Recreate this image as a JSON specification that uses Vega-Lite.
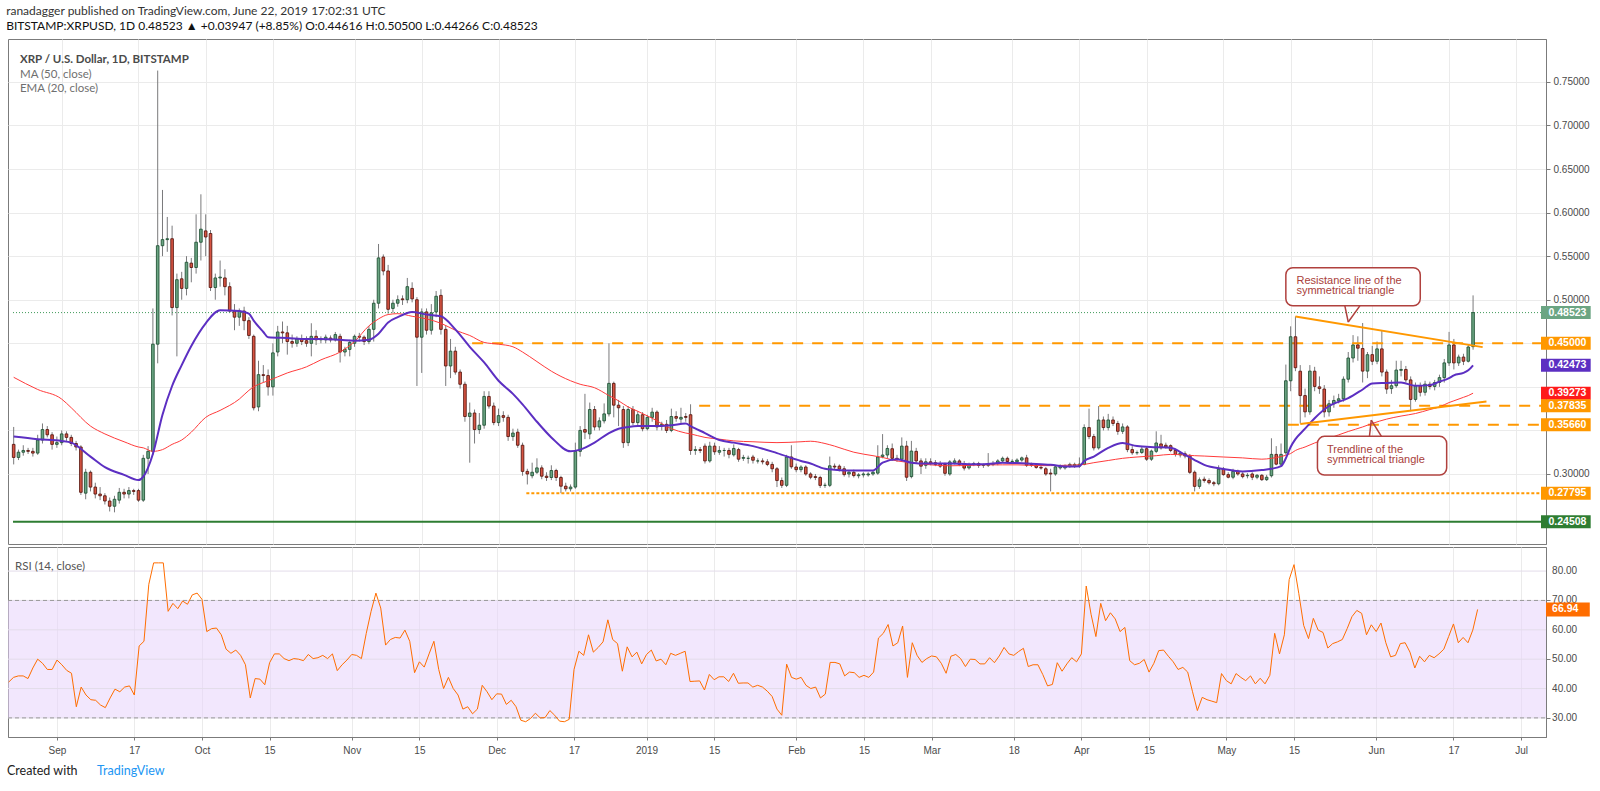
{
  "$schema": "https://vega.github.io/schema/vega-lite/v6.json",
  "background": "white",
  "padding": {"left": 6, "top": 4, "right": 0, "bottom": 0},
  "title": {
    "text": "ranadagger published on TradingView.com, June 22, 2019 17:02:31 UTC",
    "subtitle": "BITSTAMP:XRPUSD, 1D  0.48523 ▲ +0.03947 (+8.85%)  O:0.44616  H:0.50500  L:0.44266  C:0.48523",
    "anchor": "start",
    "font": "Lato",
    "fontSize": 12,
    "fontWeight": "normal",
    "color": "#333333",
    "subtitleFont": "Lato",
    "subtitleFontSize": 12,
    "subtitleColor": "#111111",
    "subtitlePadding": 3,
    "offset": 6
  },
  "datasets": {
    "candles": [
      {"t":"2018-08-22","o":0.334,"h":0.354,"l":0.311,"c":0.319,"r":42.2},
      {"t":"2018-08-23","o":0.319,"h":0.328,"l":0.316,"c":0.325,"r":43.8},
      {"t":"2018-08-24","o":0.325,"h":0.333,"l":0.321,"c":0.327,"r":44.3},
      {"t":"2018-08-25","o":0.327,"h":0.33,"l":0.323,"c":0.326,"r":44.3},
      {"t":"2018-08-26","o":0.326,"h":0.33,"l":0.32,"c":0.324,"r":43.4},
      {"t":"2018-08-27","o":0.324,"h":0.345,"l":0.322,"c":0.339,"r":47},
      {"t":"2018-08-28","o":0.339,"h":0.358,"l":0.335,"c":0.351,"r":50},
      {"t":"2018-08-29","o":0.351,"h":0.355,"l":0.342,"c":0.345,"r":48.6},
      {"t":"2018-08-30","o":0.345,"h":0.348,"l":0.328,"c":0.334,"r":46.5},
      {"t":"2018-08-31","o":0.334,"h":0.343,"l":0.33,"c":0.336,"r":46.5},
      {"t":"2018-09-01","o":0.336,"h":0.35,"l":0.333,"c":0.346,"r":49.7},
      {"t":"2018-09-02","o":0.346,"h":0.349,"l":0.338,"c":0.342,"r":48.1},
      {"t":"2018-09-03","o":0.342,"h":0.345,"l":0.332,"c":0.335,"r":46.2},
      {"t":"2018-09-04","o":0.335,"h":0.338,"l":0.327,"c":0.331,"r":45.2},
      {"t":"2018-09-05","o":0.331,"h":0.333,"l":0.276,"c":0.279,"r":33.8},
      {"t":"2018-09-06","o":0.278,"h":0.306,"l":0.271,"c":0.302,"r":40.5},
      {"t":"2018-09-07","o":0.302,"h":0.304,"l":0.28,"c":0.285,"r":37.8},
      {"t":"2018-09-08","o":0.285,"h":0.29,"l":0.272,"c":0.277,"r":36.2},
      {"t":"2018-09-09","o":0.277,"h":0.285,"l":0.27,"c":0.275,"r":36},
      {"t":"2018-09-10","o":0.275,"h":0.278,"l":0.265,"c":0.269,"r":34.4},
      {"t":"2018-09-11","o":0.269,"h":0.273,"l":0.257,"c":0.263,"r":33.5},
      {"t":"2018-09-12","o":0.263,"h":0.275,"l":0.256,"c":0.271,"r":36.8},
      {"t":"2018-09-13","o":0.27,"h":0.284,"l":0.266,"c":0.279,"r":39.8},
      {"t":"2018-09-14","o":0.279,"h":0.283,"l":0.272,"c":0.277,"r":38.9},
      {"t":"2018-09-15","o":0.277,"h":0.285,"l":0.272,"c":0.281,"r":40.5},
      {"t":"2018-09-16","o":0.281,"h":0.283,"l":0.276,"c":0.28,"r":40.9},
      {"t":"2018-09-17","o":0.281,"h":0.283,"l":0.268,"c":0.27,"r":37.8},
      {"t":"2018-09-18","o":0.27,"h":0.322,"l":0.268,"c":0.318,"r":54.5},
      {"t":"2018-09-19","o":0.318,"h":0.332,"l":0.3,"c":0.326,"r":56.1},
      {"t":"2018-09-20","o":0.326,"h":0.49,"l":0.322,"c":0.449,"r":75.5},
      {"t":"2018-09-21","o":0.449,"h":0.763,"l":0.427,"c":0.562,"r":82.8},
      {"t":"2018-09-22","o":0.562,"h":0.626,"l":0.55,"c":0.569,"r":82.8},
      {"t":"2018-09-23","o":0.569,"h":0.595,"l":0.555,"c":0.57,"r":82.8},
      {"t":"2018-09-24","o":0.57,"h":0.585,"l":0.482,"c":0.491,"r":66.3},
      {"t":"2018-09-25","o":0.491,"h":0.53,"l":0.435,"c":0.523,"r":69},
      {"t":"2018-09-26","o":0.524,"h":0.532,"l":0.5,"c":0.513,"r":67.2},
      {"t":"2018-09-27","o":0.513,"h":0.55,"l":0.505,"c":0.543,"r":69.8},
      {"t":"2018-09-28","o":0.542,"h":0.548,"l":0.52,"c":0.537,"r":68.7},
      {"t":"2018-09-29","o":0.537,"h":0.598,"l":0.53,"c":0.566,"r":71.9},
      {"t":"2018-09-30","o":0.566,"h":0.621,"l":0.545,"c":0.581,"r":72.5},
      {"t":"2018-10-01","o":0.579,"h":0.598,"l":0.55,"c":0.572,"r":70.4},
      {"t":"2018-10-02","o":0.576,"h":0.58,"l":0.51,"c":0.514,"r":59.4},
      {"t":"2018-10-03","o":0.514,"h":0.53,"l":0.5,"c":0.525,"r":60.4},
      {"t":"2018-10-04","o":0.525,"h":0.545,"l":0.515,"c":0.526,"r":60.6},
      {"t":"2018-10-05","o":0.525,"h":0.535,"l":0.505,"c":0.515,"r":58.3},
      {"t":"2018-10-06","o":0.515,"h":0.52,"l":0.485,"c":0.487,"r":53.4},
      {"t":"2018-10-07","o":0.487,"h":0.495,"l":0.465,"c":0.48,"r":52},
      {"t":"2018-10-08","o":0.48,"h":0.49,"l":0.47,"c":0.487,"r":53.1},
      {"t":"2018-10-09","o":0.487,"h":0.492,"l":0.465,"c":0.476,"r":51.3},
      {"t":"2018-10-10","o":0.476,"h":0.48,"l":0.455,"c":0.459,"r":48.1},
      {"t":"2018-10-11","o":0.458,"h":0.46,"l":0.373,"c":0.376,"r":36.8},
      {"t":"2018-10-12","o":0.377,"h":0.43,"l":0.372,"c":0.414,"r":43.4},
      {"t":"2018-10-13","o":0.414,"h":0.425,"l":0.405,"c":0.413,"r":43.2},
      {"t":"2018-10-14","o":0.413,"h":0.42,"l":0.39,"c":0.4,"r":41.3},
      {"t":"2018-10-15","o":0.4,"h":0.45,"l":0.39,"c":0.439,"r":48.8},
      {"t":"2018-10-16","o":0.44,"h":0.47,"l":0.435,"c":0.463,"r":51.8},
      {"t":"2018-10-17","o":0.463,"h":0.475,"l":0.45,"c":0.462,"r":51.8},
      {"t":"2018-10-18","o":0.462,"h":0.47,"l":0.437,"c":0.452,"r":50.2},
      {"t":"2018-10-19","o":0.452,"h":0.46,"l":0.445,"c":0.45,"r":49.5},
      {"t":"2018-10-20","o":0.45,"h":0.458,"l":0.446,"c":0.455,"r":50.2},
      {"t":"2018-10-21","o":0.455,"h":0.46,"l":0.448,"c":0.452,"r":50},
      {"t":"2018-10-22","o":0.453,"h":0.458,"l":0.446,"c":0.45,"r":49.5},
      {"t":"2018-10-23","o":0.45,"h":0.473,"l":0.435,"c":0.458,"r":51.6},
      {"t":"2018-10-24","o":0.458,"h":0.465,"l":0.448,"c":0.454,"r":50.2},
      {"t":"2018-10-25","o":0.454,"h":0.458,"l":0.45,"c":0.455,"r":50.5},
      {"t":"2018-10-26","o":0.454,"h":0.46,"l":0.45,"c":0.457,"r":51.3},
      {"t":"2018-10-27","o":0.456,"h":0.459,"l":0.451,"c":0.454,"r":50.2},
      {"t":"2018-10-28","o":0.454,"h":0.463,"l":0.452,"c":0.46,"r":51.8},
      {"t":"2018-10-29","o":0.458,"h":0.461,"l":0.428,"c":0.44,"r":46.1},
      {"t":"2018-10-30","o":0.44,"h":0.446,"l":0.435,"c":0.443,"r":48.1},
      {"t":"2018-10-31","o":0.443,"h":0.454,"l":0.435,"c":0.451,"r":49.7},
      {"t":"2018-11-01","o":0.45,"h":0.46,"l":0.446,"c":0.458,"r":51.6},
      {"t":"2018-11-02","o":0.458,"h":0.462,"l":0.452,"c":0.457,"r":51.3},
      {"t":"2018-11-03","o":0.457,"h":0.459,"l":0.448,"c":0.452,"r":50.2},
      {"t":"2018-11-04","o":0.452,"h":0.47,"l":0.449,"c":0.466,"r":58.8},
      {"t":"2018-11-05","o":0.466,"h":0.5,"l":0.452,"c":0.496,"r":66.3},
      {"t":"2018-11-06","o":0.496,"h":0.564,"l":0.49,"c":0.548,"r":72.5},
      {"t":"2018-11-07","o":0.549,"h":0.552,"l":0.528,"c":0.533,"r":67.4},
      {"t":"2018-11-08","o":0.533,"h":0.54,"l":0.484,"c":0.489,"r":54.8},
      {"t":"2018-11-09","o":0.49,"h":0.5,"l":0.485,"c":0.496,"r":56.7},
      {"t":"2018-11-10","o":0.496,"h":0.505,"l":0.492,"c":0.5,"r":57.4},
      {"t":"2018-11-11","o":0.501,"h":0.505,"l":0.494,"c":0.5,"r":57.2},
      {"t":"2018-11-12","o":0.5,"h":0.525,"l":0.496,"c":0.515,"r":59.9},
      {"t":"2018-11-13","o":0.513,"h":0.52,"l":0.497,"c":0.501,"r":56.1},
      {"t":"2018-11-14","o":0.5,"h":0.503,"l":0.401,"c":0.457,"r":45.4},
      {"t":"2018-11-15","o":0.457,"h":0.49,"l":0.416,"c":0.486,"r":49.1},
      {"t":"2018-11-16","o":0.486,"h":0.49,"l":0.46,"c":0.465,"r":47.3},
      {"t":"2018-11-17","o":0.465,"h":0.495,"l":0.46,"c":0.485,"r":51.8},
      {"t":"2018-11-18","o":0.486,"h":0.51,"l":0.48,"c":0.504,"r":56.1},
      {"t":"2018-11-19","o":0.505,"h":0.512,"l":0.46,"c":0.466,"r":46.5},
      {"t":"2018-11-20","o":0.466,"h":0.47,"l":0.401,"c":0.424,"r":40},
      {"t":"2018-11-21","o":0.424,"h":0.455,"l":0.41,"c":0.441,"r":43.8},
      {"t":"2018-11-22","o":0.441,"h":0.446,"l":0.414,"c":0.417,"r":40},
      {"t":"2018-11-23","o":0.417,"h":0.42,"l":0.398,"c":0.403,"r":37.8},
      {"t":"2018-11-24","o":0.403,"h":0.406,"l":0.36,"c":0.366,"r":33},
      {"t":"2018-11-25","o":0.366,"h":0.382,"l":0.313,"c":0.37,"r":33.8},
      {"t":"2018-11-26","o":0.37,"h":0.374,"l":0.335,"c":0.351,"r":31.4},
      {"t":"2018-11-27","o":0.351,"h":0.37,"l":0.346,"c":0.356,"r":33},
      {"t":"2018-11-28","o":0.356,"h":0.395,"l":0.352,"c":0.389,"r":41.1},
      {"t":"2018-11-29","o":0.389,"h":0.395,"l":0.375,"c":0.378,"r":38.9},
      {"t":"2018-11-30","o":0.378,"h":0.382,"l":0.356,"c":0.359,"r":36.2},
      {"t":"2018-12-01","o":0.359,"h":0.375,"l":0.355,"c":0.367,"r":38.2},
      {"t":"2018-12-02","o":0.367,"h":0.372,"l":0.36,"c":0.365,"r":38.1},
      {"t":"2018-12-03","o":0.365,"h":0.368,"l":0.338,"c":0.343,"r":34.6},
      {"t":"2018-12-04","o":0.343,"h":0.352,"l":0.338,"c":0.347,"r":36},
      {"t":"2018-12-05","o":0.348,"h":0.352,"l":0.33,"c":0.333,"r":33.8},
      {"t":"2018-12-06","o":0.333,"h":0.336,"l":0.298,"c":0.303,"r":29.2},
      {"t":"2018-12-07","o":0.303,"h":0.306,"l":0.288,"c":0.3,"r":28.7},
      {"t":"2018-12-08","o":0.298,"h":0.313,"l":0.295,"c":0.302,"r":29.8},
      {"t":"2018-12-09","o":0.302,"h":0.318,"l":0.3,"c":0.307,"r":31.6},
      {"t":"2018-12-10","o":0.307,"h":0.31,"l":0.294,"c":0.2975,"r":30},
      {"t":"2018-12-11","o":0.2975,"h":0.302,"l":0.292,"c":0.296,"r":30.1},
      {"t":"2018-12-12","o":0.296,"h":0.31,"l":0.293,"c":0.304,"r":32.5},
      {"t":"2018-12-13","o":0.304,"h":0.306,"l":0.292,"c":0.296,"r":30.9},
      {"t":"2018-12-14","o":0.296,"h":0.298,"l":0.278,"c":0.286,"r":28.9},
      {"t":"2018-12-15","o":0.286,"h":0.29,"l":0.28,"c":0.283,"r":28.7},
      {"t":"2018-12-16","o":0.283,"h":0.288,"l":0.28,"c":0.285,"r":29.5},
      {"t":"2018-12-17","o":0.285,"h":0.336,"l":0.283,"c":0.326,"r":46.5},
      {"t":"2018-12-18","o":0.326,"h":0.355,"l":0.32,"c":0.35,"r":52.7},
      {"t":"2018-12-19","o":0.351,"h":0.392,"l":0.34,"c":0.348,"r":51.3},
      {"t":"2018-12-20","o":0.346,"h":0.382,"l":0.34,"c":0.374,"r":58.3},
      {"t":"2018-12-21","o":0.374,"h":0.378,"l":0.35,"c":0.354,"r":52.4},
      {"t":"2018-12-22","o":0.354,"h":0.365,"l":0.35,"c":0.361,"r":54},
      {"t":"2018-12-23","o":0.361,"h":0.381,"l":0.358,"c":0.369,"r":55.9},
      {"t":"2018-12-24","o":0.369,"h":0.45,"l":0.366,"c":0.404,"r":63.4},
      {"t":"2018-12-25","o":0.404,"h":0.406,"l":0.365,"c":0.379,"r":56.7},
      {"t":"2018-12-26","o":0.379,"h":0.385,"l":0.355,"c":0.376,"r":55.3},
      {"t":"2018-12-27","o":0.374,"h":0.378,"l":0.33,"c":0.336,"r":45.9},
      {"t":"2018-12-28","o":0.336,"h":0.378,"l":0.332,"c":0.374,"r":54.2},
      {"t":"2018-12-29","o":0.374,"h":0.378,"l":0.356,"c":0.359,"r":50.8},
      {"t":"2018-12-30","o":0.359,"h":0.372,"l":0.356,"c":0.368,"r":52.4},
      {"t":"2018-12-31","o":0.368,"h":0.371,"l":0.349,"c":0.352,"r":48.4},
      {"t":"2019-01-01","o":0.352,"h":0.368,"l":0.35,"c":0.365,"r":51.6},
      {"t":"2019-01-02","o":0.365,"h":0.376,"l":0.36,"c":0.371,"r":53.1},
      {"t":"2019-01-03","o":0.371,"h":0.373,"l":0.35,"c":0.354,"r":49.4},
      {"t":"2019-01-04","o":0.356,"h":0.36,"l":0.35,"c":0.357,"r":50},
      {"t":"2019-01-05","o":0.357,"h":0.362,"l":0.347,"c":0.35,"r":48.1},
      {"t":"2019-01-06","o":0.35,"h":0.375,"l":0.348,"c":0.366,"r":52},
      {"t":"2019-01-07","o":0.366,"h":0.372,"l":0.36,"c":0.364,"r":51.3},
      {"t":"2019-01-08","o":0.363,"h":0.376,"l":0.358,"c":0.365,"r":52},
      {"t":"2019-01-09","o":0.366,"h":0.37,"l":0.36,"c":0.365,"r":52.7},
      {"t":"2019-01-10","o":0.368,"h":0.38,"l":0.322,"c":0.327,"r":42.4},
      {"t":"2019-01-11","o":0.327,"h":0.332,"l":0.322,"c":0.328,"r":42.5},
      {"t":"2019-01-12","o":0.328,"h":0.331,"l":0.324,"c":0.327,"r":42.6},
      {"t":"2019-01-13","o":0.332,"h":0.335,"l":0.312,"c":0.315,"r":39.5},
      {"t":"2019-01-14","o":0.315,"h":0.337,"l":0.313,"c":0.332,"r":44.8},
      {"t":"2019-01-15","o":0.332,"h":0.336,"l":0.322,"c":0.3255,"r":43},
      {"t":"2019-01-16","o":0.325,"h":0.332,"l":0.322,"c":0.327,"r":44},
      {"t":"2019-01-17","o":0.327,"h":0.33,"l":0.32,"c":0.327,"r":44},
      {"t":"2019-01-18","o":0.327,"h":0.33,"l":0.318,"c":0.3226,"r":42.4},
      {"t":"2019-01-19","o":0.322,"h":0.334,"l":0.32,"c":0.3293,"r":45.2},
      {"t":"2019-01-20","o":0.328,"h":0.33,"l":0.314,"c":0.317,"r":41.8},
      {"t":"2019-01-21","o":0.318,"h":0.322,"l":0.315,"c":0.319,"r":41.9},
      {"t":"2019-01-22","o":0.318,"h":0.321,"l":0.312,"c":0.318,"r":41.9},
      {"t":"2019-01-23","o":0.3195,"h":0.322,"l":0.312,"c":0.3158,"r":40.5},
      {"t":"2019-01-24","o":0.315,"h":0.318,"l":0.312,"c":0.315,"r":41.1},
      {"t":"2019-01-25","o":0.315,"h":0.318,"l":0.311,"c":0.314,"r":40.5},
      {"t":"2019-01-26","o":0.314,"h":0.317,"l":0.309,"c":0.311,"r":39.1},
      {"t":"2019-01-27","o":0.311,"h":0.314,"l":0.302,"c":0.306,"r":37.3},
      {"t":"2019-01-28","o":0.306,"h":0.308,"l":0.285,"c":0.2925,"r":33},
      {"t":"2019-01-29","o":0.2925,"h":0.296,"l":0.284,"c":0.287,"r":30.9},
      {"t":"2019-01-30","o":0.287,"h":0.322,"l":0.285,"c":0.3195,"r":48.3},
      {"t":"2019-01-31","o":0.3195,"h":0.333,"l":0.306,"c":0.3083,"r":43.8},
      {"t":"2019-02-01","o":0.308,"h":0.312,"l":0.302,"c":0.305,"r":43.2},
      {"t":"2019-02-02","o":0.305,"h":0.31,"l":0.302,"c":0.308,"r":43.8},
      {"t":"2019-02-03","o":0.308,"h":0.31,"l":0.298,"c":0.3,"r":41.1},
      {"t":"2019-02-04","o":0.3,"h":0.302,"l":0.294,"c":0.2963,"r":40},
      {"t":"2019-02-05","o":0.297,"h":0.3,"l":0.293,"c":0.296,"r":40.5},
      {"t":"2019-02-06","o":0.296,"h":0.298,"l":0.284,"c":0.2869,"r":36.8},
      {"t":"2019-02-07","o":0.287,"h":0.29,"l":0.284,"c":0.287,"r":38.1},
      {"t":"2019-02-08","o":0.287,"h":0.32,"l":0.285,"c":0.3094,"r":48.9},
      {"t":"2019-02-09","o":0.309,"h":0.312,"l":0.305,"c":0.308,"r":48.9},
      {"t":"2019-02-10","o":0.309,"h":0.311,"l":0.303,"c":0.3056,"r":48.4},
      {"t":"2019-02-11","o":0.306,"h":0.309,"l":0.297,"c":0.2993,"r":44.3},
      {"t":"2019-02-12","o":0.3,"h":0.304,"l":0.296,"c":0.302,"r":45.6},
      {"t":"2019-02-13","o":0.302,"h":0.305,"l":0.296,"c":0.2982,"r":45.4},
      {"t":"2019-02-14","o":0.298,"h":0.301,"l":0.295,"c":0.299,"r":43.8},
      {"t":"2019-02-15","o":0.299,"h":0.302,"l":0.296,"c":0.3,"r":44.5},
      {"t":"2019-02-16","o":0.299,"h":0.302,"l":0.297,"c":0.3,"r":43.8},
      {"t":"2019-02-17","o":0.3,"h":0.304,"l":0.298,"c":0.302,"r":45.6},
      {"t":"2019-02-18","o":0.301,"h":0.333,"l":0.299,"c":0.3195,"r":57.2},
      {"t":"2019-02-19","o":0.32,"h":0.3458,"l":0.318,"c":0.3218,"r":58.8},
      {"t":"2019-02-20","o":0.3218,"h":0.333,"l":0.318,"c":0.3293,"r":61.8},
      {"t":"2019-02-21","o":0.329,"h":0.335,"l":0.315,"c":0.318,"r":54.5},
      {"t":"2019-02-22","o":0.318,"h":0.322,"l":0.314,"c":0.317,"r":55.6},
      {"t":"2019-02-23","o":0.317,"h":0.342,"l":0.315,"c":0.332,"r":61.3},
      {"t":"2019-02-24","o":0.332,"h":0.338,"l":0.292,"c":0.2963,"r":43.8},
      {"t":"2019-02-25","o":0.297,"h":0.338,"l":0.295,"c":0.3263,"r":55.6},
      {"t":"2019-02-26","o":0.326,"h":0.33,"l":0.312,"c":0.315,"r":51.3},
      {"t":"2019-02-27","o":0.315,"h":0.318,"l":0.3,"c":0.309,"r":48.9},
      {"t":"2019-02-28","o":0.31,"h":0.318,"l":0.306,"c":0.314,"r":50.2},
      {"t":"2019-03-01","o":0.314,"h":0.318,"l":0.31,"c":0.312,"r":51.1},
      {"t":"2019-03-02","o":0.313,"h":0.316,"l":0.309,"c":0.311,"r":50.8},
      {"t":"2019-03-03","o":0.312,"h":0.315,"l":0.307,"c":0.309,"r":48.6},
      {"t":"2019-03-04","o":0.311,"h":0.313,"l":0.298,"c":0.3008,"r":45.2},
      {"t":"2019-03-05","o":0.3,"h":0.316,"l":0.298,"c":0.3139,"r":51},
      {"t":"2019-03-06","o":0.313,"h":0.318,"l":0.311,"c":0.315,"r":51.6},
      {"t":"2019-03-07","o":0.315,"h":0.317,"l":0.309,"c":0.311,"r":50.2},
      {"t":"2019-03-08","o":0.312,"h":0.315,"l":0.304,"c":0.3068,"r":47.5},
      {"t":"2019-03-09","o":0.307,"h":0.313,"l":0.305,"c":0.311,"r":50},
      {"t":"2019-03-10","o":0.312,"h":0.314,"l":0.309,"c":0.312,"r":49.9},
      {"t":"2019-03-11","o":0.312,"h":0.314,"l":0.307,"c":0.3098,"r":48.4},
      {"t":"2019-03-12","o":0.31,"h":0.312,"l":0.307,"c":0.31,"r":48.4},
      {"t":"2019-03-13","o":0.31,"h":0.324,"l":0.308,"c":0.3115,"r":50.5},
      {"t":"2019-03-14","o":0.311,"h":0.315,"l":0.309,"c":0.312,"r":48.8},
      {"t":"2019-03-15","o":0.312,"h":0.317,"l":0.31,"c":0.315,"r":51.1},
      {"t":"2019-03-16","o":0.315,"h":0.32,"l":0.313,"c":0.318,"r":54},
      {"t":"2019-03-17","o":0.318,"h":0.32,"l":0.312,"c":0.3143,"r":51.8},
      {"t":"2019-03-18","o":0.3143,"h":0.317,"l":0.312,"c":0.3146,"r":51.3},
      {"t":"2019-03-19","o":0.314,"h":0.318,"l":0.312,"c":0.316,"r":52.6},
      {"t":"2019-03-20","o":0.316,"h":0.32,"l":0.314,"c":0.3185,"r":53.7},
      {"t":"2019-03-21","o":0.3185,"h":0.322,"l":0.308,"c":0.31,"r":47.5},
      {"t":"2019-03-22","o":0.311,"h":0.313,"l":0.308,"c":0.31,"r":48.1},
      {"t":"2019-03-23","o":0.31,"h":0.312,"l":0.306,"c":0.3076,"r":48.1},
      {"t":"2019-03-24","o":0.3076,"h":0.31,"l":0.305,"c":0.3068,"r":44.8},
      {"t":"2019-03-25","o":0.306,"h":0.308,"l":0.298,"c":0.3,"r":40.9},
      {"t":"2019-03-26","o":0.301,"h":0.306,"l":0.28,"c":0.3,"r":41.4},
      {"t":"2019-03-27","o":0.3,"h":0.31,"l":0.298,"c":0.3082,"r":48.8},
      {"t":"2019-03-28","o":0.307,"h":0.311,"l":0.305,"c":0.309,"r":45.9},
      {"t":"2019-03-29","o":0.307,"h":0.311,"l":0.305,"c":0.309,"r":48.4},
      {"t":"2019-03-30","o":0.309,"h":0.313,"l":0.307,"c":0.311,"r":50.5},
      {"t":"2019-03-31","o":0.309,"h":0.313,"l":0.307,"c":0.311,"r":49.1},
      {"t":"2019-04-01","o":0.309,"h":0.319,"l":0.307,"c":0.3113,"r":51.8},
      {"t":"2019-04-02","o":0.311,"h":0.357,"l":0.31,"c":0.3533,"r":74.9},
      {"t":"2019-04-03","o":0.3533,"h":0.375,"l":0.34,"c":0.343,"r":65.3},
      {"t":"2019-04-04","o":0.343,"h":0.346,"l":0.327,"c":0.33,"r":57.7},
      {"t":"2019-04-05","o":0.33,"h":0.378,"l":0.328,"c":0.3619,"r":69},
      {"t":"2019-04-06","o":0.362,"h":0.366,"l":0.35,"c":0.3533,"r":63.1},
      {"t":"2019-04-07","o":0.3533,"h":0.369,"l":0.35,"c":0.362,"r":65.8},
      {"t":"2019-04-08","o":0.362,"h":0.366,"l":0.355,"c":0.358,"r":63.7},
      {"t":"2019-04-09","o":0.358,"h":0.361,"l":0.345,"c":0.349,"r":59.4},
      {"t":"2019-04-10","o":0.349,"h":0.358,"l":0.346,"c":0.354,"r":60.8},
      {"t":"2019-04-11","o":0.354,"h":0.356,"l":0.325,"c":0.328,"r":49.5},
      {"t":"2019-04-12","o":0.328,"h":0.332,"l":0.322,"c":0.3244,"r":48.1},
      {"t":"2019-04-13","o":0.3244,"h":0.327,"l":0.322,"c":0.3245,"r":48.6},
      {"t":"2019-04-14","o":0.3247,"h":0.331,"l":0.323,"c":0.3285,"r":49.9},
      {"t":"2019-04-15","o":0.329,"h":0.331,"l":0.315,"c":0.317,"r":45.6},
      {"t":"2019-04-16","o":0.317,"h":0.328,"l":0.315,"c":0.3263,"r":48.6},
      {"t":"2019-04-17","o":0.326,"h":0.349,"l":0.324,"c":0.3356,"r":52.9},
      {"t":"2019-04-18","o":0.3345,"h":0.345,"l":0.328,"c":0.33,"r":53.1},
      {"t":"2019-04-19","o":0.333,"h":0.336,"l":0.329,"c":0.331,"r":51},
      {"t":"2019-04-20","o":0.3325,"h":0.334,"l":0.325,"c":0.327,"r":49.1},
      {"t":"2019-04-21","o":0.327,"h":0.329,"l":0.32,"c":0.3225,"r":46.5},
      {"t":"2019-04-22","o":0.322,"h":0.326,"l":0.319,"c":0.324,"r":47.2},
      {"t":"2019-04-23","o":0.3232,"h":0.326,"l":0.318,"c":0.3207,"r":45.6},
      {"t":"2019-04-24","o":0.3207,"h":0.323,"l":0.3,"c":0.3019,"r":38.9},
      {"t":"2019-04-25","o":0.302,"h":0.304,"l":0.28,"c":0.2858,"r":32.5},
      {"t":"2019-04-26","o":0.2858,"h":0.296,"l":0.283,"c":0.2933,"r":37},
      {"t":"2019-04-27","o":0.294,"h":0.297,"l":0.29,"c":0.2925,"r":36.2},
      {"t":"2019-04-28","o":0.2925,"h":0.295,"l":0.288,"c":0.29,"r":35.7},
      {"t":"2019-04-29","o":0.29,"h":0.292,"l":0.286,"c":0.2888,"r":35.2},
      {"t":"2019-04-30","o":0.2888,"h":0.31,"l":0.287,"c":0.3056,"r":45.1},
      {"t":"2019-05-01","o":0.3056,"h":0.308,"l":0.298,"c":0.2993,"r":42.7},
      {"t":"2019-05-02","o":0.2993,"h":0.302,"l":0.295,"c":0.2963,"r":41.6},
      {"t":"2019-05-03","o":0.2963,"h":0.306,"l":0.294,"c":0.303,"r":45.1},
      {"t":"2019-05-04","o":0.303,"h":0.305,"l":0.298,"c":0.3,"r":43.8},
      {"t":"2019-05-05","o":0.3,"h":0.302,"l":0.295,"c":0.297,"r":42.7},
      {"t":"2019-05-06","o":0.298,"h":0.301,"l":0.295,"c":0.2985,"r":44.3},
      {"t":"2019-05-07","o":0.3,"h":0.302,"l":0.293,"c":0.2963,"r":41.6},
      {"t":"2019-05-08","o":0.2963,"h":0.3,"l":0.294,"c":0.2985,"r":43.5},
      {"t":"2019-05-09","o":0.2985,"h":0.3,"l":0.292,"c":0.2935,"r":41.6},
      {"t":"2019-05-10","o":0.2935,"h":0.299,"l":0.292,"c":0.2963,"r":44.5},
      {"t":"2019-05-11","o":0.298,"h":0.341,"l":0.296,"c":0.3225,"r":58.8},
      {"t":"2019-05-12","o":0.3225,"h":0.332,"l":0.31,"c":0.3113,"r":51.8},
      {"t":"2019-05-13","o":0.3113,"h":0.335,"l":0.309,"c":0.3225,"r":58.3},
      {"t":"2019-05-14","o":0.3244,"h":0.4256,"l":0.322,"c":0.407,"r":77.1},
      {"t":"2019-05-15","o":0.407,"h":0.4695,"l":0.395,"c":0.4575,"r":82.2},
      {"t":"2019-05-16","o":0.4575,"h":0.4808,"l":0.418,"c":0.422,"r":72.3},
      {"t":"2019-05-17","o":0.418,"h":0.425,"l":0.358,"c":0.39,"r":61.5},
      {"t":"2019-05-18","o":0.39,"h":0.398,"l":0.365,"c":0.3713,"r":57},
      {"t":"2019-05-19","o":0.3713,"h":0.425,"l":0.368,"c":0.4181,"r":63.9},
      {"t":"2019-05-20","o":0.418,"h":0.423,"l":0.395,"c":0.4005,"r":59.9},
      {"t":"2019-05-21","o":0.4,"h":0.412,"l":0.392,"c":0.398,"r":59.1},
      {"t":"2019-05-22","o":0.3975,"h":0.402,"l":0.365,"c":0.3713,"r":53.8},
      {"t":"2019-05-23","o":0.3713,"h":0.385,"l":0.366,"c":0.3806,"r":55.3},
      {"t":"2019-05-24","o":0.3806,"h":0.39,"l":0.376,"c":0.3844,"r":55.9},
      {"t":"2019-05-25","o":0.384,"h":0.392,"l":0.381,"c":0.3863,"r":56.7},
      {"t":"2019-05-26","o":0.3863,"h":0.412,"l":0.383,"c":0.4088,"r":60.4},
      {"t":"2019-05-27","o":0.4088,"h":0.44,"l":0.405,"c":0.4331,"r":64.5},
      {"t":"2019-05-28","o":0.4331,"h":0.4594,"l":0.428,"c":0.4481,"r":66.6},
      {"t":"2019-05-29","o":0.4481,"h":0.458,"l":0.43,"c":0.4444,"r":65.6},
      {"t":"2019-05-30","o":0.444,"h":0.4733,"l":0.405,"c":0.4181,"r":58.3},
      {"t":"2019-05-31","o":0.4181,"h":0.44,"l":0.41,"c":0.4369,"r":61.7},
      {"t":"2019-06-01","o":0.437,"h":0.447,"l":0.425,"c":0.4294,"r":59.4},
      {"t":"2019-06-02","o":0.4294,"h":0.452,"l":0.426,"c":0.4436,"r":62.3},
      {"t":"2019-06-03","o":0.4436,"h":0.465,"l":0.412,"c":0.417,"r":55.6},
      {"t":"2019-06-04","o":0.417,"h":0.42,"l":0.392,"c":0.3975,"r":50.8},
      {"t":"2019-06-05","o":0.398,"h":0.408,"l":0.392,"c":0.4013,"r":51.3},
      {"t":"2019-06-06","o":0.4013,"h":0.43,"l":0.399,"c":0.4193,"r":55.3},
      {"t":"2019-06-07","o":0.419,"h":0.43,"l":0.412,"c":0.42,"r":55.6},
      {"t":"2019-06-08","o":0.42,"h":0.424,"l":0.405,"c":0.408,"r":52.4},
      {"t":"2019-06-09","o":0.408,"h":0.412,"l":0.372,"c":0.3856,"r":47},
      {"t":"2019-06-10","o":0.3856,"h":0.405,"l":0.383,"c":0.4013,"r":51},
      {"t":"2019-06-11","o":0.4013,"h":0.405,"l":0.389,"c":0.3938,"r":49.1},
      {"t":"2019-06-12","o":0.3938,"h":0.407,"l":0.39,"c":0.4031,"r":51.3},
      {"t":"2019-06-13","o":0.403,"h":0.406,"l":0.397,"c":0.4005,"r":50.5},
      {"t":"2019-06-14","o":0.4005,"h":0.408,"l":0.396,"c":0.405,"r":51.8},
      {"t":"2019-06-15","o":0.405,"h":0.414,"l":0.4,"c":0.4106,"r":53.4},
      {"t":"2019-06-16","o":0.4106,"h":0.432,"l":0.405,"c":0.4275,"r":57.7},
      {"t":"2019-06-17","o":0.4275,"h":0.4631,"l":0.424,"c":0.4481,"r":62},
      {"t":"2019-06-18","o":0.4481,"h":0.455,"l":0.42,"c":0.4275,"r":55.6},
      {"t":"2019-06-19","o":0.4275,"h":0.437,"l":0.424,"c":0.4342,"r":57.4},
      {"t":"2019-06-20","o":0.4342,"h":0.438,"l":0.425,"c":0.4294,"r":55.6},
      {"t":"2019-06-21","o":0.4294,"h":0.449,"l":0.428,"c":0.44576,"r":59.9},
      {"t":"2019-06-22","o":0.44616,"h":0.505,"l":0.44266,"c":0.48523,"r":66.94}
    ],
    "lines": [
      {"t":"2018-08-22","ma":0.411,"ema":0.343},
      {"t":"2018-08-27","ma":0.397,"ema":0.34},
      {"t":"2018-09-01","ma":0.386,"ema":0.338},
      {"t":"2018-09-03","ma":0.376,"ema":0.336},
      {"t":"2018-09-07","ma":0.355,"ema":0.32},
      {"t":"2018-09-10","ma":0.346,"ema":0.308},
      {"t":"2018-09-14","ma":0.337,"ema":0.299},
      {"t":"2018-09-17","ma":0.331,"ema":0.293},
      {"t":"2018-09-18","ma":0.33,"ema":0.297},
      {"t":"2018-09-20","ma":0.326,"ema":0.323},
      {"t":"2018-09-22","ma":0.328,"ema":0.368},
      {"t":"2018-09-24","ma":0.334,"ema":0.401},
      {"t":"2018-09-26","ma":0.339,"ema":0.425},
      {"t":"2018-09-28","ma":0.348,"ema":0.447},
      {"t":"2018-10-01","ma":0.365,"ema":0.473},
      {"t":"2018-10-04","ma":0.373,"ema":0.488},
      {"t":"2018-10-08","ma":0.386,"ema":0.487},
      {"t":"2018-10-10","ma":0.396,"ema":0.484},
      {"t":"2018-10-11","ma":0.4,"ema":0.476},
      {"t":"2018-10-13","ma":0.405,"ema":0.463},
      {"t":"2018-10-14","ma":0.407,"ema":0.457},
      {"t":"2018-10-18","ma":0.416,"ema":0.456},
      {"t":"2018-10-22","ma":0.423,"ema":0.455},
      {"t":"2018-10-25","ma":0.431,"ema":0.455},
      {"t":"2018-10-29","ma":0.44,"ema":0.454},
      {"t":"2018-11-01","ma":0.452,"ema":0.453},
      {"t":"2018-11-04","ma":0.47,"ema":0.454},
      {"t":"2018-11-06","ma":0.478,"ema":0.461},
      {"t":"2018-11-08","ma":0.483,"ema":0.474},
      {"t":"2018-11-10","ma":0.484,"ema":0.48},
      {"t":"2018-11-13","ma":0.481,"ema":0.486},
      {"t":"2018-11-16","ma":0.478,"ema":0.483},
      {"t":"2018-11-19","ma":0.473,"ema":0.481},
      {"t":"2018-11-22","ma":0.465,"ema":0.466},
      {"t":"2018-11-25","ma":0.459,"ema":0.446},
      {"t":"2018-11-28","ma":0.451,"ema":0.428},
      {"t":"2018-12-01","ma":0.449,"ema":0.407},
      {"t":"2018-12-04","ma":0.446,"ema":0.392},
      {"t":"2018-12-06","ma":0.44,"ema":0.38},
      {"t":"2018-12-09","ma":0.429,"ema":0.36},
      {"t":"2018-12-12","ma":0.418,"ema":0.342},
      {"t":"2018-12-16","ma":0.407,"ema":0.326},
      {"t":"2018-12-18","ma":0.403,"ema":0.328},
      {"t":"2018-12-21","ma":0.399,"ema":0.336},
      {"t":"2018-12-24","ma":0.39,"ema":0.347},
      {"t":"2018-12-26","ma":0.384,"ema":0.352},
      {"t":"2018-12-28","ma":0.377,"ema":0.354},
      {"t":"2018-12-30","ma":0.372,"ema":0.355},
      {"t":"2019-01-02","ma":0.364,"ema":0.355},
      {"t":"2019-01-06","ma":0.352,"ema":0.356},
      {"t":"2019-01-09","ma":0.347,"ema":0.358},
      {"t":"2019-01-10","ma":0.346,"ema":0.355},
      {"t":"2019-01-13","ma":0.342,"ema":0.347},
      {"t":"2019-01-16","ma":0.34,"ema":0.339},
      {"t":"2019-01-19","ma":0.338,"ema":0.336},
      {"t":"2019-01-23","ma":0.337,"ema":0.332},
      {"t":"2019-01-28","ma":0.336,"ema":0.324},
      {"t":"2019-02-02","ma":0.337,"ema":0.315},
      {"t":"2019-02-04","ma":0.3376,"ema":0.312},
      {"t":"2019-02-07","ma":0.335,"ema":0.306},
      {"t":"2019-02-09","ma":0.332,"ema":0.305},
      {"t":"2019-02-13","ma":0.325,"ema":0.304},
      {"t":"2019-02-17","ma":0.321,"ema":0.304},
      {"t":"2019-02-19","ma":0.319,"ema":0.313},
      {"t":"2019-02-22","ma":0.315,"ema":0.317},
      {"t":"2019-02-25","ma":0.313,"ema":0.313},
      {"t":"2019-02-28","ma":0.311,"ema":0.312},
      {"t":"2019-03-05","ma":0.3094,"ema":0.312},
      {"t":"2019-03-09","ma":0.3098,"ema":0.3113},
      {"t":"2019-03-12","ma":0.3105,"ema":0.3113},
      {"t":"2019-03-16","ma":0.3105,"ema":0.313},
      {"t":"2019-03-19","ma":0.3105,"ema":0.3125},
      {"t":"2019-03-23","ma":0.3097,"ema":0.3115},
      {"t":"2019-03-26","ma":0.3096,"ema":0.3105},
      {"t":"2019-03-30","ma":0.3102,"ema":0.3085},
      {"t":"2019-04-01","ma":0.3105,"ema":0.309},
      {"t":"2019-04-02","ma":0.311,"ema":0.315},
      {"t":"2019-04-04","ma":0.313,"ema":0.32},
      {"t":"2019-04-07","ma":0.3155,"ema":0.33},
      {"t":"2019-04-10","ma":0.318,"ema":0.3356},
      {"t":"2019-04-13","ma":0.3195,"ema":0.332},
      {"t":"2019-04-17","ma":0.321,"ema":0.3308},
      {"t":"2019-04-20","ma":0.3225,"ema":0.33},
      {"t":"2019-04-23","ma":0.3218,"ema":0.322},
      {"t":"2019-04-25","ma":0.321,"ema":0.316},
      {"t":"2019-04-27","ma":0.3206,"ema":0.3105},
      {"t":"2019-05-01","ma":0.3195,"ema":0.3058},
      {"t":"2019-05-05","ma":0.3185,"ema":0.303},
      {"t":"2019-05-09","ma":0.317,"ema":0.3045},
      {"t":"2019-05-11","ma":0.318,"ema":0.306},
      {"t":"2019-05-13","ma":0.32,"ema":0.309},
      {"t":"2019-05-14","ma":0.3215,"ema":0.318},
      {"t":"2019-05-15","ma":0.3235,"ema":0.331},
      {"t":"2019-05-16","ma":0.327,"ema":0.34},
      {"t":"2019-05-18","ma":0.331,"ema":0.352},
      {"t":"2019-05-20","ma":0.3356,"ema":0.364},
      {"t":"2019-05-23","ma":0.341,"ema":0.378},
      {"t":"2019-05-27","ma":0.3488,"ema":0.387},
      {"t":"2019-05-30","ma":0.354,"ema":0.397},
      {"t":"2019-06-01","ma":0.358,"ema":0.404},
      {"t":"2019-06-04","ma":0.363,"ema":0.4045},
      {"t":"2019-06-07","ma":0.3665,"ema":0.405},
      {"t":"2019-06-10","ma":0.3694,"ema":0.4013},
      {"t":"2019-06-13","ma":0.374,"ema":0.402},
      {"t":"2019-06-15","ma":0.377,"ema":0.406},
      {"t":"2019-06-17","ma":0.382,"ema":0.41},
      {"t":"2019-06-18","ma":0.384,"ema":0.4133},
      {"t":"2019-06-20","ma":0.388,"ema":0.416},
      {"t":"2019-06-21","ma":0.39,"ema":0.419},
      {"t":"2019-06-22","ma":0.39273,"ema":0.42473}
    ],
    "levels": [
      {"k":"last","p":0.48523},
      {"k":"res","p":0.45},
      {"k":"ema","p":0.42473},
      {"k":"ma","p":0.39273},
      {"k":"s1","p":0.37835},
      {"k":"s2","p":0.3566},
      {"k":"s3","p":0.27795},
      {"k":"low","p":0.24508}
    ],
    "rsiTicks": [{"v": 30}, {"v": 40}, {"v": 50}, {"v": 60}, {"v": 70}, {"v": 80}]
  },
  "spacing": 1,
  "vconcat": [
    {
      "width": 1538,
      "height": 505,
      "layer": [
        {
          "data": {"name": "candles"},
          "mark": {"type": "rule", "color": "#7a7a7c", "strokeWidth": 1},
          "encoding": {
            "x": {
              "field": "t",
              "type": "temporal",
              "scale": {
                "type": "utc",
                "domain": [
                  {"year": 2018, "month": 8, "date": 21, "hours": 20, "minutes": 38, "utc": true},
                  {"year": 2019, "month": 7, "date": 6, "hours": 3, "minutes": 36, "utc": true}
                ]
              },
              "axis": {
                "title": null,
                "labels": false,
                "ticks": false,
                "domain": false,
                "grid": true,
                "values": [
                  {"year": 2018, "month": 9, "date": 1, "utc": true},
                  {"year": 2018, "month": 9, "date": 17, "utc": true},
                  {"year": 2018, "month": 10, "date": 1, "utc": true},
                  {"year": 2018, "month": 10, "date": 15, "utc": true},
                  {"year": 2018, "month": 11, "date": 1, "utc": true},
                  {"year": 2018, "month": 11, "date": 15, "utc": true},
                  {"year": 2018, "month": 12, "date": 1, "utc": true},
                  {"year": 2018, "month": 12, "date": 17, "utc": true},
                  {"year": 2019, "month": 1, "date": 1, "utc": true},
                  {"year": 2019, "month": 1, "date": 15, "utc": true},
                  {"year": 2019, "month": 2, "date": 1, "utc": true},
                  {"year": 2019, "month": 2, "date": 15, "utc": true},
                  {"year": 2019, "month": 3, "date": 1, "utc": true},
                  {"year": 2019, "month": 3, "date": 18, "utc": true},
                  {"year": 2019, "month": 4, "date": 1, "utc": true},
                  {"year": 2019, "month": 4, "date": 15, "utc": true},
                  {"year": 2019, "month": 5, "date": 1, "utc": true},
                  {"year": 2019, "month": 5, "date": 15, "utc": true},
                  {"year": 2019, "month": 6, "date": 1, "utc": true},
                  {"year": 2019, "month": 6, "date": 17, "utc": true},
                  {"year": 2019, "month": 7, "date": 1, "utc": true}
                ]
              }
            },
            "y": {
              "field": "l",
              "type": "quantitative",
              "scale": {"domain": [0.2254, 0.7935], "zero": false, "nice": false},
              "axis": {
                "title": null,
                "orient": "right",
                "values": [0.3, 0.35, 0.4, 0.45, 0.5, 0.55, 0.6, 0.65, 0.7, 0.75],
                "labelExpr": "datum.value > 0.34 && datum.value < 0.46 ? '' : format(datum.value, '.5f')",
                "tickSize": 4,
                "labelPadding": 3,
                "labelOverlap": false,
                "grid": true
              }
            },
            "y2": {"field": "h"}
          }
        },
        {
          "data": {"values": [{}]},
          "mark": {"type": "rule", "color": "#ff9800", "strokeWidth": 2, "strokeDash": [11, 9]},
          "encoding": {
            "x": {"datum": {"year": 2018, "month": 11, "date": 25, "hours": 12, "utc": true}, "type": "temporal"},
            "x2": {"datum": {"year": 2019, "month": 7, "date": 6, "hours": 3, "minutes": 36, "utc": true}},
            "y": {"datum": 0.45, "type": "quantitative"}
          }
        },
        {
          "data": {"values": [{}]},
          "mark": {"type": "rule", "color": "#ff9800", "strokeWidth": 2, "strokeDash": [11, 9]},
          "encoding": {
            "x": {"datum": {"year": 2019, "month": 1, "date": 11, "hours": 19, "utc": true}, "type": "temporal"},
            "x2": {"datum": {"year": 2019, "month": 7, "date": 6, "hours": 3, "minutes": 36, "utc": true}},
            "y": {"datum": 0.37835, "type": "quantitative"}
          }
        },
        {
          "data": {"values": [{}]},
          "mark": {"type": "rule", "color": "#ff9800", "strokeWidth": 2, "strokeDash": [11, 9]},
          "encoding": {
            "x": {"datum": {"year": 2019, "month": 5, "date": 14, "hours": 10, "utc": true}, "type": "temporal"},
            "x2": {"datum": {"year": 2019, "month": 7, "date": 6, "hours": 3, "minutes": 36, "utc": true}},
            "y": {"datum": 0.3566, "type": "quantitative"}
          }
        },
        {
          "data": {"values": [{}]},
          "mark": {"type": "rule", "color": "#ff9800", "strokeWidth": 2, "strokeDash": [3, 2]},
          "encoding": {
            "x": {"datum": {"year": 2018, "month": 12, "date": 6, "hours": 19, "utc": true}, "type": "temporal"},
            "x2": {"datum": {"year": 2019, "month": 7, "date": 6, "hours": 3, "minutes": 36, "utc": true}},
            "y": {"datum": 0.27795, "type": "quantitative"}
          }
        },
        {
          "data": {"values": [{}]},
          "mark": {"type": "rule", "color": "#2e7d32", "strokeWidth": 2},
          "encoding": {
            "x": {"datum": {"year": 2018, "month": 8, "date": 21, "hours": 20, "minutes": 38, "utc": true}, "type": "temporal"},
            "x2": {"datum": {"year": 2019, "month": 7, "date": 6, "hours": 3, "minutes": 36, "utc": true}},
            "y": {"datum": 0.24508, "type": "quantitative"}
          }
        },
        {
          "data": {"values": [{}]},
          "mark": {"type": "rule", "color": "#3f9a5a", "strokeWidth": 1, "strokeDash": [1, 2]},
          "encoding": {
            "x": {"datum": {"year": 2018, "month": 8, "date": 21, "hours": 20, "minutes": 38, "utc": true}, "type": "temporal"},
            "x2": {"datum": {"year": 2019, "month": 7, "date": 6, "hours": 3, "minutes": 36, "utc": true}},
            "y": {"datum": 0.48523, "type": "quantitative"}
          }
        },
        {
          "data": {"name": "candles"},
          "mark": {"type": "bar", "size": 2.6, "strokeWidth": 0.9},
          "encoding": {
            "x": {"field": "t", "type": "temporal"},
            "y": {"field": "o", "type": "quantitative"},
            "y2": {"field": "c"},
            "color": {"condition": {"test": "datum.c >= datum.o", "value": "#6ba583"}, "value": "#d75442"},
            "stroke": {"condition": {"test": "datum.c >= datum.o", "value": "#225437"}, "value": "#5b1a13"}
          }
        },
        {
          "data": {"name": "lines"},
          "mark": {"type": "line", "color": "#ff3b3b", "strokeWidth": 1, "interpolate": "monotone"},
          "encoding": {
            "x": {"field": "t", "type": "temporal"},
            "y": {"field": "ma", "type": "quantitative"}
          }
        },
        {
          "data": {"name": "lines"},
          "mark": {"type": "line", "color": "#5c2fc2", "strokeWidth": 2, "interpolate": "monotone"},
          "encoding": {
            "x": {"field": "t", "type": "temporal"},
            "y": {"field": "ema", "type": "quantitative"}
          }
        },
        {
          "data": {"values": [{}]},
          "mark": {"type": "rule", "color": "#ff9800", "strokeWidth": 2},
          "encoding": {
            "x": {"datum": {"year": 2019, "month": 5, "date": 16, "utc": true}, "type": "temporal"},
            "x2": {"datum": {"year": 2019, "month": 6, "date": 24, "utc": true}},
            "y": {"datum": 0.4808, "type": "quantitative"},
            "y2": {"datum": 0.4456}
          }
        },
        {
          "data": {"values": [{}]},
          "mark": {"type": "rule", "color": "#ff9800", "strokeWidth": 2},
          "encoding": {
            "x": {"datum": {"year": 2019, "month": 5, "date": 17, "utc": true}, "type": "temporal"},
            "x2": {"datum": {"year": 2019, "month": 6, "date": 24, "hours": 19, "utc": true}},
            "y": {"datum": 0.3574, "type": "quantitative"},
            "y2": {"datum": 0.3833}
          }
        },
        {
          "data": {"values": [{}]},
          "mark": {"type": "rect", "fill": "white", "stroke": "#b0413e", "strokeWidth": 1.5, "cornerRadius": 7},
          "encoding": {
            "x": {"datum": {"year": 2019, "month": 5, "date": 14, "utc": true}, "type": "temporal"},
            "x2": {"datum": {"year": 2019, "month": 6, "date": 11, "utc": true}},
            "y": {"datum": 0.5367, "type": "quantitative"},
            "y2": {"datum": 0.493}
          }
        },
        {
          "data": {"values": [{}]},
          "mark": {"type": "rule", "color": "#b0413e", "strokeWidth": 1.5},
          "encoding": {
            "x": {"datum": {"year": 2019, "month": 5, "date": 26, "hours": 7, "utc": true}, "type": "temporal"},
            "x2": {"datum": {"year": 2019, "month": 5, "date": 27, "utc": true}},
            "y": {"datum": 0.493, "type": "quantitative"},
            "y2": {"datum": 0.4744}
          }
        },
        {
          "data": {"values": [{}]},
          "mark": {"type": "rule", "color": "#b0413e", "strokeWidth": 1.5},
          "encoding": {
            "x": {"datum": {"year": 2019, "month": 5, "date": 27, "utc": true}, "type": "temporal"},
            "x2": {"datum": {"year": 2019, "month": 5, "date": 29, "hours": 10, "utc": true}},
            "y": {"datum": 0.4744, "type": "quantitative"},
            "y2": {"datum": 0.493}
          }
        },
        {
          "data": {"values": [{}]},
          "mark": {"type": "text", "align": "left", "baseline": "middle", "font": "Liberation Sans", "fontSize": 11, "color": "#a8403a", "text": "Resistance line of the"},
          "encoding": {
            "x": {"datum": {"year": 2019, "month": 5, "date": 16, "hours": 5, "utc": true}, "type": "temporal"},
            "y": {"datum": 0.5213, "type": "quantitative"}
          }
        },
        {
          "data": {"values": [{}]},
          "mark": {"type": "text", "align": "left", "baseline": "middle", "font": "Liberation Sans", "fontSize": 11, "color": "#a8403a", "text": "symmetrical triangle"},
          "encoding": {
            "x": {"datum": {"year": 2019, "month": 5, "date": 16, "hours": 5, "utc": true}, "type": "temporal"},
            "y": {"datum": 0.5095, "type": "quantitative"}
          }
        },
        {
          "data": {"values": [{}]},
          "mark": {"type": "rect", "fill": "white", "stroke": "#b0413e", "strokeWidth": 1.5, "cornerRadius": 7},
          "encoding": {
            "x": {"datum": {"year": 2019, "month": 5, "date": 20, "hours": 14, "utc": true}, "type": "temporal"},
            "x2": {"datum": {"year": 2019, "month": 6, "date": 16, "hours": 12, "utc": true}},
            "y": {"datum": 0.3432, "type": "quantitative"},
            "y2": {"datum": 0.2989}
          }
        },
        {
          "data": {"values": [{}]},
          "mark": {"type": "rule", "color": "#b0413e", "strokeWidth": 1.5},
          "encoding": {
            "x": {"datum": {"year": 2019, "month": 5, "date": 31, "hours": 10, "utc": true}, "type": "temporal"},
            "x2": {"datum": {"year": 2019, "month": 5, "date": 31, "hours": 19, "utc": true}},
            "y": {"datum": 0.3432, "type": "quantitative"},
            "y2": {"datum": 0.3619}
          }
        },
        {
          "data": {"values": [{}]},
          "mark": {"type": "rule", "color": "#b0413e", "strokeWidth": 1.5},
          "encoding": {
            "x": {"datum": {"year": 2019, "month": 5, "date": 31, "hours": 19, "utc": true}, "type": "temporal"},
            "x2": {"datum": {"year": 2019, "month": 6, "date": 2, "hours": 22, "utc": true}},
            "y": {"datum": 0.3619, "type": "quantitative"},
            "y2": {"datum": 0.3432}
          }
        },
        {
          "data": {"values": [{}]},
          "mark": {"type": "text", "align": "left", "baseline": "middle", "font": "Liberation Sans", "fontSize": 11, "color": "#a8403a", "text": "Trendline of the"},
          "encoding": {
            "x": {"datum": {"year": 2019, "month": 5, "date": 22, "hours": 14, "utc": true}, "type": "temporal"},
            "y": {"datum": 0.3281, "type": "quantitative"}
          }
        },
        {
          "data": {"values": [{}]},
          "mark": {"type": "text", "align": "left", "baseline": "middle", "font": "Liberation Sans", "fontSize": 11, "color": "#a8403a", "text": "symmetrical triangle"},
          "encoding": {
            "x": {"datum": {"year": 2019, "month": 5, "date": 22, "hours": 14, "utc": true}, "type": "temporal"},
            "y": {"datum": 0.3162, "type": "quantitative"}
          }
        },
        {
          "data": {"name": "levels"},
          "mark": {"type": "bar", "size": 13, "clip": false},
          "encoding": {
            "x": {"datum": {"year": 2019, "month": 7, "date": 6, "hours": 3, "minutes": 36, "utc": true}, "type": "temporal"},
            "x2": {"datum": {"year": 2019, "month": 7, "date": 16, "hours": 12, "utc": true}},
            "y": {"field": "p", "type": "quantitative"},
            "color": {
              "field": "k",
              "type": "nominal",
              "legend": null,
              "scale": {
                "domain": ["last", "res", "ema", "ma", "s1", "s2", "s3", "low"],
                "range": ["#6ba583", "#ff9800", "#5c2fc2", "#ff1a1a", "#ff9800", "#ff9800", "#ff9800", "#2e7d32"]
              }
            }
          }
        },
        {
          "data": {"name": "levels"},
          "mark": {"type": "text", "align": "left", "baseline": "middle", "font": "Liberation Sans", "fontSize": 10.5, "fontWeight": "bold", "color": "white"},
          "encoding": {
            "x": {"datum": {"year": 2019, "month": 7, "date": 7, "hours": 17, "utc": true}, "type": "temporal"},
            "y": {"field": "p", "type": "quantitative"},
            "text": {"field": "p", "type": "quantitative", "format": ".5f"}
          }
        },
        {
          "data": {"values": [{}]},
          "mark": {"type": "text", "align": "left", "baseline": "middle", "font": "Lato", "fontSize": 11.5, "fontWeight": "bold", "color": "#4a4a4a", "text": "XRP / U.S. Dollar, 1D, BITSTAMP"},
          "encoding": {
            "x": {"datum": {"year": 2018, "month": 8, "date": 23, "hours": 7, "minutes": 30, "utc": true}, "type": "temporal"},
            "y": {"datum": 0.7755, "type": "quantitative"}
          }
        },
        {
          "data": {"values": [{}]},
          "mark": {"type": "text", "align": "left", "baseline": "middle", "font": "Lato", "fontSize": 11.5, "color": "#6f6f6f", "text": "MA (50, close)"},
          "encoding": {
            "x": {"datum": {"year": 2018, "month": 8, "date": 23, "hours": 7, "minutes": 30, "utc": true}, "type": "temporal"},
            "y": {"datum": 0.7583, "type": "quantitative"}
          }
        },
        {
          "data": {"values": [{}]},
          "mark": {"type": "text", "align": "left", "baseline": "middle", "font": "Lato", "fontSize": 11.5, "color": "#6f6f6f", "text": "EMA (20, close)"},
          "encoding": {
            "x": {"datum": {"year": 2018, "month": 8, "date": 23, "hours": 7, "minutes": 30, "utc": true}, "type": "temporal"},
            "y": {"datum": 0.7415, "type": "quantitative"}
          }
        }
      ]
    },
    {
      "width": 1538,
      "height": 190,
      "layer": [
        {
          "data": {"values": [{}]},
          "mark": {"type": "rect", "fill": "#e7d3fb", "opacity": 0.55},
          "encoding": {
            "x": {"datum": {"year": 2018, "month": 8, "date": 21, "hours": 20, "minutes": 38, "utc": true}, "type": "temporal"},
            "x2": {"datum": {"year": 2019, "month": 7, "date": 6, "hours": 3, "minutes": 36, "utc": true}},
            "y": {"datum": 30, "type": "quantitative"},
            "y2": {"datum": 70}
          }
        },
        {
          "data": {"name": "rsiTicks"},
          "mark": {"type": "rule", "color": "#e3dcea", "strokeWidth": 1},
          "encoding": {
            "x": {"datum": {"year": 2018, "month": 8, "date": 21, "hours": 20, "minutes": 38, "utc": true}, "type": "temporal"},
            "x2": {"datum": {"year": 2019, "month": 7, "date": 6, "hours": 3, "minutes": 36, "utc": true}},
            "y": {"field": "v", "type": "quantitative"}
          }
        },
        {
          "data": {"values": [{"v": 30}, {"v": 70}]},
          "mark": {"type": "rule", "color": "#9a9a9a", "strokeWidth": 1, "strokeDash": [4, 3]},
          "encoding": {
            "x": {"datum": {"year": 2018, "month": 8, "date": 21, "hours": 20, "minutes": 38, "utc": true}, "type": "temporal"},
            "x2": {"datum": {"year": 2019, "month": 7, "date": 6, "hours": 3, "minutes": 36, "utc": true}},
            "y": {"field": "v", "type": "quantitative"}
          }
        },
        {
          "data": {"name": "candles"},
          "mark": {"type": "line", "color": "#ff6d00", "strokeWidth": 1},
          "encoding": {
            "x": {
              "field": "t",
              "type": "temporal",
              "scale": {
                "type": "utc",
                "domain": [
                  {"year": 2018, "month": 8, "date": 21, "hours": 20, "minutes": 38, "utc": true},
                  {"year": 2019, "month": 7, "date": 6, "hours": 3, "minutes": 36, "utc": true}
                ]
              },
              "axis": {
                "title": null,
                "grid": true,
                "tickSize": 3,
                "labelPadding": 5,
                "labelExpr": "utcdate(datum.value) == 1 ? (utcmonth(datum.value) == 0 ? utcFormat(datum.value, '%Y') : utcFormat(datum.value, '%b')) : utcFormat(datum.value, '%-d')",
                "values": [
                  {"year": 2018, "month": 9, "date": 1, "utc": true},
                  {"year": 2018, "month": 9, "date": 17, "utc": true},
                  {"year": 2018, "month": 10, "date": 1, "utc": true},
                  {"year": 2018, "month": 10, "date": 15, "utc": true},
                  {"year": 2018, "month": 11, "date": 1, "utc": true},
                  {"year": 2018, "month": 11, "date": 15, "utc": true},
                  {"year": 2018, "month": 12, "date": 1, "utc": true},
                  {"year": 2018, "month": 12, "date": 17, "utc": true},
                  {"year": 2019, "month": 1, "date": 1, "utc": true},
                  {"year": 2019, "month": 1, "date": 15, "utc": true},
                  {"year": 2019, "month": 2, "date": 1, "utc": true},
                  {"year": 2019, "month": 2, "date": 15, "utc": true},
                  {"year": 2019, "month": 3, "date": 1, "utc": true},
                  {"year": 2019, "month": 3, "date": 18, "utc": true},
                  {"year": 2019, "month": 4, "date": 1, "utc": true},
                  {"year": 2019, "month": 4, "date": 15, "utc": true},
                  {"year": 2019, "month": 5, "date": 1, "utc": true},
                  {"year": 2019, "month": 5, "date": 15, "utc": true},
                  {"year": 2019, "month": 6, "date": 1, "utc": true},
                  {"year": 2019, "month": 6, "date": 17, "utc": true},
                  {"year": 2019, "month": 7, "date": 1, "utc": true}
                ]
              }
            },
            "y": {
              "field": "r",
              "type": "quantitative",
              "scale": {"domain": [25.2, 86.5], "zero": false, "nice": false},
              "axis": {
                "title": null,
                "orient": "right",
                "values": [30, 40, 50, 60, 70, 80],
                "labels": false,
                "tickSize": 4,
                "grid": false
              }
            }
          }
        },
        {
          "data": {"name": "rsiTicks"},
          "mark": {"type": "text", "align": "left", "baseline": "middle", "font": "Liberation Sans", "fontSize": 10, "color": "#4a4a4a", "clip": false},
          "encoding": {
            "x": {"datum": {"year": 2019, "month": 7, "date": 7, "hours": 10, "utc": true}, "type": "temporal"},
            "y": {"field": "v", "type": "quantitative"},
            "text": {"field": "v", "type": "quantitative", "format": ".2f"}
          }
        },
        {
          "data": {"values": [{"v": 66.94}]},
          "mark": {"type": "bar", "size": 14, "clip": false, "color": "#ff6d00"},
          "encoding": {
            "x": {"datum": {"year": 2019, "month": 7, "date": 6, "hours": 3, "minutes": 36, "utc": true}, "type": "temporal"},
            "x2": {"datum": {"year": 2019, "month": 7, "date": 15, "hours": 5, "utc": true}},
            "y": {"field": "v", "type": "quantitative"}
          }
        },
        {
          "data": {"values": [{"v": 66.94}]},
          "mark": {"type": "text", "align": "left", "baseline": "middle", "font": "Liberation Sans", "fontSize": 10.5, "fontWeight": "bold", "color": "white"},
          "encoding": {
            "x": {"datum": {"year": 2019, "month": 7, "date": 7, "hours": 10, "utc": true}, "type": "temporal"},
            "y": {"field": "v", "type": "quantitative"},
            "text": {"field": "v", "type": "quantitative", "format": ".2f"}
          }
        },
        {
          "data": {"values": [{}]},
          "mark": {"type": "text", "align": "left", "baseline": "middle", "font": "Lato", "fontSize": 11.5, "color": "#555555", "text": "RSI (14, close)"},
          "encoding": {
            "x": {"datum": {"year": 2018, "month": 8, "date": 23, "hours": 7, "minutes": 30, "utc": true}, "type": "temporal"},
            "y": {"datum": 81.4, "type": "quantitative"}
          }
        },
        {
          "data": {"values": [{}]},
          "mark": {"type": "text", "align": "left", "baseline": "middle", "font": "Lato", "fontSize": 12.5, "color": "#222222", "text": "Created with", "clip": false},
          "encoding": {
            "x": {"datum": {"year": 2018, "month": 8, "date": 21, "hours": 15, "minutes": 36, "utc": true}, "type": "temporal"},
            "y": {"datum": 12, "type": "quantitative"}
          }
        },
        {
          "data": {"values": [{}]},
          "mark": {"type": "text", "align": "left", "baseline": "middle", "font": "Lato", "fontSize": 12.5, "color": "#2196f3", "text": "TradingView", "clip": false},
          "encoding": {
            "x": {"datum": {"year": 2018, "month": 9, "date": 9, "hours": 7, "utc": true}, "type": "temporal"},
            "y": {"datum": 12, "type": "quantitative"}
          }
        }
      ]
    }
  ],
  "config": {
    "view": {"stroke": "#7b7b7b", "strokeWidth": 1},
    "axis": {
      "labelFont": "Liberation Sans",
      "labelFontSize": 10,
      "labelColor": "#4a4a4a",
      "gridColor": "#ebebeb",
      "gridWidth": 1,
      "domainColor": "#7b7b7b",
      "tickColor": "#7b7b7b"
    }
  }
}
